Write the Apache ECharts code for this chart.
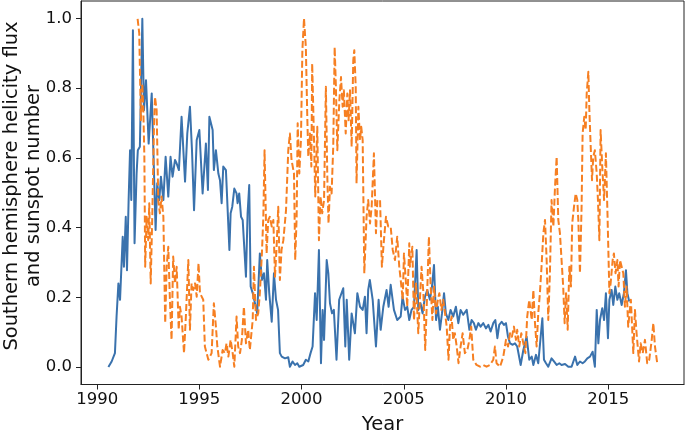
<!DOCTYPE html>
<html>
<head>
<meta charset="utf-8">
<script src="https://cdn.jsdelivr.net/npm/echarts@6/dist/echarts.min.js"></script>
<style>
html,body{margin:0;padding:0;background:#fff;}
#chart{width:685px;height:432px;}
</style>
</head>
<body>
<div id="chart"></div>
<script>
// Tick labels
var xTicks = [1990, 1995, 2000, 2005, 2010, 2015];
var yTicks = [0.0, 0.2, 0.4, 0.6, 0.8, 1.0];
var xTitle = 'Year';
var yTitle = 'Southern hemisphere helicity flux\nand sunspot number';

// Southern hemisphere helicity flux (normalised) : [year, value]
var helicity = [
[1990.55,0.0],[1990.71,0.016],[1990.79,0.021],[1990.87,0.04],[1990.95,0.145],[1991.04,0.24],[1991.12,0.193],
[1991.25,0.374],[1991.31,0.288],[1991.40,0.431],[1991.46,0.278],[1991.54,0.479],[1991.61,0.622],[1991.67,0.479],
[1991.75,0.966],[1991.83,0.355],[1991.93,0.555],[1991.99,0.622],[1992.09,0.632],[1992.21,0.999],[1992.29,0.737],
[1992.39,0.823],[1992.52,0.641],[1992.67,0.785],[1992.75,0.622],[1992.86,0.393],[1992.94,0.527],[1993.04,0.479],
[1993.12,0.546],[1993.24,0.479],[1993.35,0.603],[1993.48,0.489],[1993.59,0.603],[1993.69,0.546],[1993.81,0.594],
[1993.89,0.584],[1994.0,0.565],[1994.13,0.718],[1994.30,0.532],[1994.41,0.670],[1994.54,0.747],[1994.64,0.622],
[1994.74,0.45],[1994.87,0.651],[1995.0,0.68],[1995.16,0.498],[1995.32,0.641],[1995.42,0.508],[1995.49,0.718],
[1995.65,0.680],[1995.71,0.565],[1995.81,0.622],[1995.93,0.555],[1996.01,0.536],[1996.09,0.470],[1996.17,0.575],
[1996.30,0.565],[1996.47,0.336],[1996.53,0.441],[1996.61,0.460],[1996.71,0.512],[1996.82,0.498],[1996.87,0.470],
[1996.95,0.498],[1997.04,0.431],[1997.12,0.422],[1997.28,0.259],[1997.36,0.441],[1997.44,0.522],[1997.51,0.231],
[1997.61,0.212],[1997.72,0.183],[1997.83,0.154],[1997.96,0.326],[1998.06,0.250],[1998.16,0.269],[1998.26,0.193],
[1998.32,0.307],[1998.42,0.212],[1998.54,0.130],[1998.65,0.269],[1998.75,0.193],[1998.85,0.164],[1998.94,0.040],
[1999.03,0.030],[1999.19,0.025],[1999.35,0.028],[1999.43,0.001],[1999.56,0.016],[1999.68,0.006],[1999.79,0.011],
[1999.89,0.001],[2000.08,0.006],[2000.21,0.021],[2000.33,0.016],[2000.44,0.040],[2000.54,0.059],[2000.66,0.212],
[2000.74,0.135],[2000.85,0.336],[2000.95,0.011],[2001.03,0.164],[2001.10,0.078],[2001.23,0.307],[2001.31,0.269],
[2001.39,0.183],[2001.49,0.154],[2001.58,0.164],[2001.71,0.021],[2001.84,0.193],[2002.04,0.226],[2002.14,0.059],
[2002.21,0.193],[2002.33,0.021],[2002.45,0.154],[2002.61,0.097],[2002.73,0.212],[2002.86,0.173],[2002.99,0.164],
[2003.10,0.202],[2003.18,0.097],[2003.26,0.221],[2003.34,0.250],[2003.48,0.193],[2003.64,0.059],[2003.77,0.193],
[2003.87,0.107],[2004.00,0.173],[2004.16,0.221],[2004.26,0.173],[2004.36,0.236],[2004.52,0.164],[2004.68,0.135],
[2004.85,0.145],[2004.94,0.202],[2005.06,0.164],[2005.17,0.173],[2005.27,0.135],[2005.38,0.164],[2005.50,0.173],
[2005.63,0.336],[2005.71,0.164],[2005.82,0.183],[2005.92,0.154],[2006.04,0.202],[2006.15,0.221],[2006.28,0.193],
[2006.38,0.231],[2006.48,0.293],[2006.58,0.135],[2006.67,0.173],[2006.77,0.107],[2006.87,0.154],[2006.97,0.212],
[2007.06,0.154],[2007.18,0.135],[2007.29,0.164],[2007.42,0.145],[2007.55,0.173],[2007.67,0.126],[2007.78,0.164],
[2007.91,0.150],[2008.08,0.164],[2008.21,0.107],[2008.32,0.135],[2008.43,0.126],[2008.53,0.107],[2008.65,0.126],
[2008.76,0.116],[2008.89,0.126],[2009.02,0.111],[2009.14,0.121],[2009.25,0.102],[2009.38,0.126],[2009.48,0.135],
[2009.58,0.083],[2009.67,0.121],[2009.79,0.130],[2009.90,0.121],[2010.00,0.126],[2010.10,0.087],[2010.20,0.068],
[2010.33,0.064],[2010.44,0.068],[2010.55,0.059],[2010.72,0.006],[2010.85,0.049],[2011.01,0.087],[2011.14,0.021],
[2011.26,0.030],[2011.34,0.006],[2011.47,0.035],[2011.58,0.011],[2011.66,0.006],[2011.78,0.140],[2011.86,0.021],
[2011.96,0.011],[2012.07,0.001],[2012.23,0.025],[2012.35,0.016],[2012.48,0.006],[2012.61,0.011],[2012.72,0.006],
[2012.89,0.009],[2013.05,0.001],[2013.21,0.001],[2013.38,0.030],[2013.49,0.006],[2013.62,0.016],[2013.75,0.011],
[2013.86,0.016],[2013.98,0.025],[2014.11,0.030],[2014.24,0.044],[2014.35,0.001],[2014.44,0.164],[2014.52,0.068],
[2014.60,0.135],[2014.71,0.169],[2014.80,0.135],[2014.89,0.212],[2014.99,0.083],[2015.06,0.193],[2015.17,0.221],
[2015.25,0.178],[2015.35,0.231],[2015.45,0.193],[2015.54,0.212],[2015.66,0.178],[2015.77,0.212],[2015.87,0.278],
[2015.94,0.212],[2016.03,0.188]
];

// Sunspot number (normalised) : [year, value]
var sunspot = [
[1991.98,0.999],[1992.06,0.957],[1992.09,0.861],[1992.14,0.708],[1992.21,0.813],[1992.26,0.737],[1992.31,0.603],
[1992.35,0.288],[1992.42,0.431],[1992.50,0.364],[1992.55,0.470],[1992.62,0.240],[1992.70,0.441],[1992.78,0.689],
[1992.83,0.775],[1992.91,0.737],[1992.99,0.479],[1993.07,0.441],[1993.15,0.489],[1993.24,0.431],[1993.33,0.126],
[1993.40,0.288],[1993.48,0.345],[1993.56,0.193],[1993.64,0.078],[1993.72,0.317],[1993.81,0.240],[1993.89,0.288],
[1993.99,0.107],[1994.05,0.173],[1994.13,0.145],[1994.25,0.040],[1994.34,0.145],[1994.46,0.307],[1994.54,0.107],
[1994.62,0.240],[1994.70,0.221],[1994.79,0.240],[1994.87,0.202],[1994.96,0.298],[1995.03,0.212],[1995.19,0.193],
[1995.27,0.059],[1995.44,0.021],[1995.60,0.040],[1995.71,0.183],[1995.81,0.116],[1995.88,0.059],[1996.01,0.001],
[1996.14,0.049],[1996.25,0.040],[1996.33,0.068],[1996.42,0.030],[1996.53,0.078],[1996.63,0.040],[1996.71,0.001],
[1996.82,0.145],[1996.90,0.059],[1996.99,0.040],[1997.08,0.078],[1997.18,0.173],[1997.28,0.068],[1997.39,0.107],
[1997.47,0.049],[1997.61,0.135],[1997.67,0.288],[1997.77,0.135],[1997.88,0.154],[1997.96,0.212],[1998.06,0.326],
[1998.13,0.431],[1998.19,0.622],[1998.29,0.326],[1998.37,0.422],[1998.45,0.431],[1998.54,0.403],[1998.62,0.422],
[1998.70,0.259],[1998.78,0.345],[1998.86,0.460],[1998.94,0.250],[1999.02,0.336],[1999.11,0.364],[1999.24,0.450],
[1999.35,0.622],[1999.43,0.670],[1999.51,0.594],[1999.63,0.555],[1999.69,0.307],[1999.76,0.431],[1999.81,0.699],
[1999.89,0.555],[1999.97,0.651],[2000.04,0.909],[2000.12,1.0],[2000.21,0.918],[2000.28,0.718],[2000.33,0.603],
[2000.41,0.670],[2000.48,0.575],[2000.52,0.871],[2000.61,0.651],[2000.67,0.489],[2000.77,0.689],[2000.85,0.364],
[2000.93,0.489],[2001.01,0.441],[2001.10,0.479],[2001.19,0.804],[2001.26,0.546],[2001.32,0.412],[2001.39,0.517],
[2001.47,0.498],[2001.55,0.632],[2001.62,0.918],[2001.68,0.804],[2001.75,0.622],[2001.85,0.766],[2001.93,0.832],
[2002.01,0.747],[2002.07,0.794],[2002.16,0.670],[2002.24,0.785],[2002.30,0.708],[2002.37,0.794],[2002.45,0.632],
[2002.53,0.880],[2002.58,0.909],[2002.65,0.804],[2002.69,0.527],[2002.78,0.747],[2002.86,0.651],[2002.92,0.689],
[2002.99,0.651],[2003.07,0.269],[2003.18,0.431],[2003.26,0.479],[2003.35,0.412],[2003.43,0.460],[2003.54,0.613],
[2003.64,0.384],[2003.71,0.479],[2003.84,0.479],[2003.93,0.288],[2004.03,0.364],[2004.13,0.431],[2004.24,0.403],
[2004.36,0.403],[2004.46,0.336],[2004.57,0.307],[2004.68,0.374],[2004.78,0.288],[2004.85,0.250],[2004.95,0.193],
[2005.01,0.326],[2005.11,0.240],[2005.17,0.173],[2005.27,0.355],[2005.30,0.288],[2005.42,0.345],[2005.50,0.135],
[2005.60,0.240],[2005.71,0.097],[2005.79,0.193],[2005.87,0.288],[2005.96,0.212],[2006.05,0.049],[2006.15,0.221],
[2006.23,0.374],[2006.31,0.240],[2006.40,0.135],[2006.48,0.231],[2006.58,0.154],[2006.67,0.193],[2006.74,0.212],
[2006.84,0.164],[2006.93,0.193],[2007.02,0.154],[2007.10,0.116],[2007.19,0.021],[2007.26,0.116],[2007.34,0.145],
[2007.42,0.078],[2007.50,0.097],[2007.59,0.059],[2007.68,0.011],[2007.78,0.059],[2007.88,0.097],[2007.99,0.040],
[2008.11,0.049],[2008.21,0.078],[2008.30,0.116],[2008.40,0.021],[2008.56,0.006],[2008.73,0.001],[2008.89,0.006],
[2009.05,0.001],[2009.22,0.006],[2009.38,0.021],[2009.46,0.059],[2009.54,0.011],[2009.71,0.001],[2009.87,0.030],
[2010.00,0.078],[2010.10,0.059],[2010.20,0.097],[2010.29,0.087],[2010.39,0.116],[2010.49,0.078],[2010.55,0.107],
[2010.65,0.059],[2010.75,0.097],[2010.85,0.068],[2010.95,0.040],[2011.04,0.145],[2011.14,0.193],[2011.26,0.135],
[2011.34,0.221],[2011.42,0.126],[2011.50,0.059],[2011.58,0.154],[2011.66,0.212],[2011.74,0.288],[2011.83,0.384],
[2011.91,0.422],[2011.99,0.307],[2012.07,0.135],[2012.15,0.269],[2012.23,0.479],[2012.32,0.403],[2012.40,0.517],
[2012.48,0.603],[2012.56,0.422],[2012.64,0.384],[2012.72,0.307],[2012.80,0.231],[2012.87,0.126],[2012.94,0.212],
[2013.02,0.107],[2013.10,0.288],[2013.18,0.231],[2013.24,0.412],[2013.33,0.460],[2013.41,0.498],[2013.49,0.479],
[2013.54,0.422],[2013.62,0.269],[2013.70,0.460],[2013.75,0.670],[2013.83,0.718],[2013.90,0.680],[2013.95,0.785],
[2014.03,0.847],[2014.08,0.737],[2014.14,0.641],[2014.21,0.536],[2014.27,0.603],[2014.35,0.622],[2014.44,0.555],
[2014.50,0.479],[2014.57,0.364],[2014.63,0.680],[2014.71,0.575],[2014.80,0.479],[2014.89,0.613],[2014.97,0.431],
[2015.06,0.212],[2015.12,0.240],[2015.22,0.307],[2015.28,0.326],[2015.36,0.269],[2015.45,0.307],[2015.51,0.231],
[2015.58,0.307],[2015.66,0.288],[2015.74,0.269],[2015.82,0.173],[2015.90,0.231],[2015.98,0.116],[2016.11,0.193],
[2016.23,0.040],[2016.31,0.164],[2016.39,0.097],[2016.51,0.016],[2016.59,0.068],[2016.69,0.040],[2016.80,0.078],
[2016.91,0.011],[2017.01,0.021],[2017.13,0.078],[2017.21,0.126],[2017.29,0.059],[2017.40,0.011]
];

var chart = echarts.init(document.getElementById('chart'), null, {renderer: 'canvas'});
var font = 'DejaVu Sans';
var ink = '#111111';
chart.setOption({
  animation: false,
  backgroundColor: '#ffffff',
  grid: {left: 81, right: 1, top: 1, bottom: 47.5, show: true, borderColor: '#222222', borderWidth: 1,
         containLabel: false, outerBoundsMode: 'none'},
  graphic: [{
    type: 'text', x: 23, y: 186, rotation: Math.PI / 2, silent: true,
    style: {text: yTitle, fill: ink, fontFamily: font, fontSize: 19.5, lineHeight: 22,
            align: 'center', verticalAlign: 'middle'}
  }],
  xAxis: {
    type: 'value', min: 1989.21, max: 2018.71,
    splitLine: {show: false},
    axisLine: {show: true, onZero: false, lineStyle: {color: '#222222', width: 1}},
    axisTick: {show: true, length: 5, lineStyle: {color: '#222222'}, customValues: xTicks},
    axisLabel: {customValues: xTicks, color: ink, fontFamily: font, fontSize: 16.5, margin: 7,
      formatter: function (v) { return String(Math.round(v)); }},
    name: xTitle, nameLocation: 'middle', nameGap: 30,
    nameTextStyle: {color: ink, fontFamily: font, fontSize: 19.5}
  },
  yAxis: {
    type: 'value', min: -0.05, max: 1.05,
    splitLine: {show: false},
    axisLine: {show: true, onZero: false, lineStyle: {color: '#222222', width: 1}},
    axisTick: {show: true, length: 5, lineStyle: {color: '#222222'}, customValues: yTicks},
    axisLabel: {customValues: yTicks, color: ink, fontFamily: font, fontSize: 16.5, margin: 9,
      formatter: function (v) { return v.toFixed(1); }}
  },
  series: [
    {type: 'line', data: helicity, showSymbol: false, symbol: 'none',
     lineStyle: {color: '#3a72ad', width: 2, join: 'round'}, z: 2},
    {type: 'line', data: sunspot, showSymbol: false, symbol: 'none',
     lineStyle: {color: '#f67f22', width: 2, type: [7, 3], join: 'round'}, z: 3}
  ]
});
</script>
</body>
</html>
